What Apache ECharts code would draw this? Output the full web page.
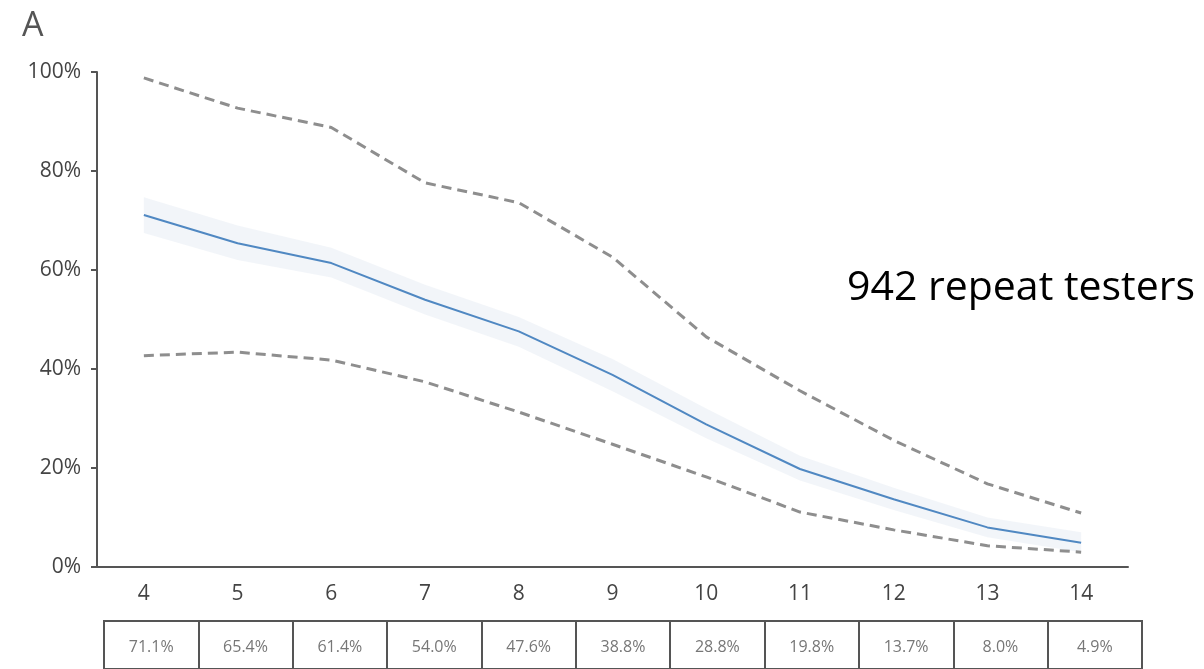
<!DOCTYPE html>
<html>
<head>
<meta charset="utf-8">
<script src="https://cdn.jsdelivr.net/npm/echarts@6/dist/echarts.min.js"></script>
<style>
html,body{margin:0;padding:0;background:#fff;}
#chart{width:1204px;height:669px;}
</style>
</head>
<body>
<div id="chart"></div>
<script>
var categories = ['4','5','6','7','8','9','10','11','12','13','14'];
var meanValues = [71.1, 65.4, 61.4, 54.0, 47.6, 38.8, 28.8, 19.8, 13.7, 8.0, 4.9];
var upperDashed = [98.8, 92.7, 88.8, 77.6, 73.6, 62.6, 46.5, 35.6, 25.6, 16.8, 10.9];
var lowerDashed = [42.7, 43.4, 41.8, 37.4, 31.3, 24.8, 18.2, 11.1, 7.5, 4.3, 3.0];
var ciLow = [67.5, 62.0, 58.5, 51.0, 44.5, 35.5, 26.0, 17.5, 11.5, 6.0, 3.0];
var ciHigh = [74.7, 69.0, 64.5, 57.0, 50.5, 42.0, 32.0, 22.5, 16.0, 10.0, 7.0];
var tableLabels = meanValues.map(function(v){ return v.toFixed(1) + '%'; });

var ciSpan = ciHigh.map(function(h, i){ return +(h - ciLow[i]).toFixed(2); });

var chart = echarts.init(document.getElementById('chart'), null, {renderer:'canvas'});
var axisColor = '#555';
var option = {
  backgroundColor: '#fff',
  animation: false,
  title: [
    {text: 'A', left: 17, top: 4, textStyle: {fontFamily: 'Open Sans', fontWeight: 'normal', fontSize: 34, color: '#555'}},
    {text: '942 repeat testers', left: 842, top: 263, textStyle: {fontFamily: 'Open Sans', fontWeight: 'normal', fontSize: 41, color: '#000'}}
  ],
  grid: [
    {left: 97, right: 76, top: 72, bottom: 102},
    {left: 104, right: 62, top: 621, height: 70, show: true, borderColor: '#555', borderWidth: 2, backgroundColor: 'transparent'}
  ],
  xAxis: [
    {
      type: 'category', gridIndex: 0, data: categories, boundaryGap: true,
      axisLine: {lineStyle: {color: axisColor, width: 2}},
      axisTick: {alignWithLabel: true, length: 6, lineStyle: {color: axisColor, width: 2}},
      axisLabel: {fontFamily: 'Open Sans', fontSize: 21, color: '#444', margin: 17, letterSpacing: 2},
      splitLine: {show: false}
    },
    {
      type: 'category', gridIndex: 1, data: tableLabels, boundaryGap: true, position: 'top',
      axisLine: {show: false}, axisTick: {show: false},
      axisLabel: {inside: true, margin: 18, fontFamily: 'Open Sans', fontSize: 16, color: '#777', letterSpacing: 1},
      splitLine: {show: true, lineStyle: {color: '#555', width: 2}}
    }
  ],
  yAxis: [
    {
      type: 'value', gridIndex: 0, min: 0, max: 100, interval: 20,
      axisLine: {show: true, lineStyle: {color: axisColor, width: 2}},
      axisTick: {show: true, length: 6, lineStyle: {color: axisColor, width: 2}},
      axisLabel: {formatter: '{value}%', fontFamily: 'Open Sans', fontSize: 21, color: '#444', margin: 16, letterSpacing: 2.5},
      splitLine: {show: false}
    },
    {type: 'value', gridIndex: 1, show: false, min: 0, max: 1}
  ],
  series: [
    {
      type: 'line', name: 'ciLow', data: ciLow, stack: 'ci', symbol: 'none',
      lineStyle: {opacity: 0}, silent: true, z: 1
    },
    {
      type: 'line', name: 'ciBand', data: ciSpan, stack: 'ci', symbol: 'none',
      lineStyle: {opacity: 0}, areaStyle: {color: 'rgba(214,222,236,0.45)'}, silent: true, z: 1
    },
    {
      type: 'line', name: 'upper', data: upperDashed, symbol: 'none',
      lineStyle: {color: '#8e8e8e', width: 3, type: [10, 6]}, z: 3
    },
    {
      type: 'line', name: 'lower', data: lowerDashed, symbol: 'none',
      lineStyle: {color: '#8e8e8e', width: 3, type: [10, 6]}, z: 3
    },
    {
      type: 'line', name: 'mean', data: meanValues, symbol: 'none',
      lineStyle: {color: '#5088c2', width: 2}, z: 4
    }
  ]
};
chart.setOption(option);
</script>
</body>
</html>
